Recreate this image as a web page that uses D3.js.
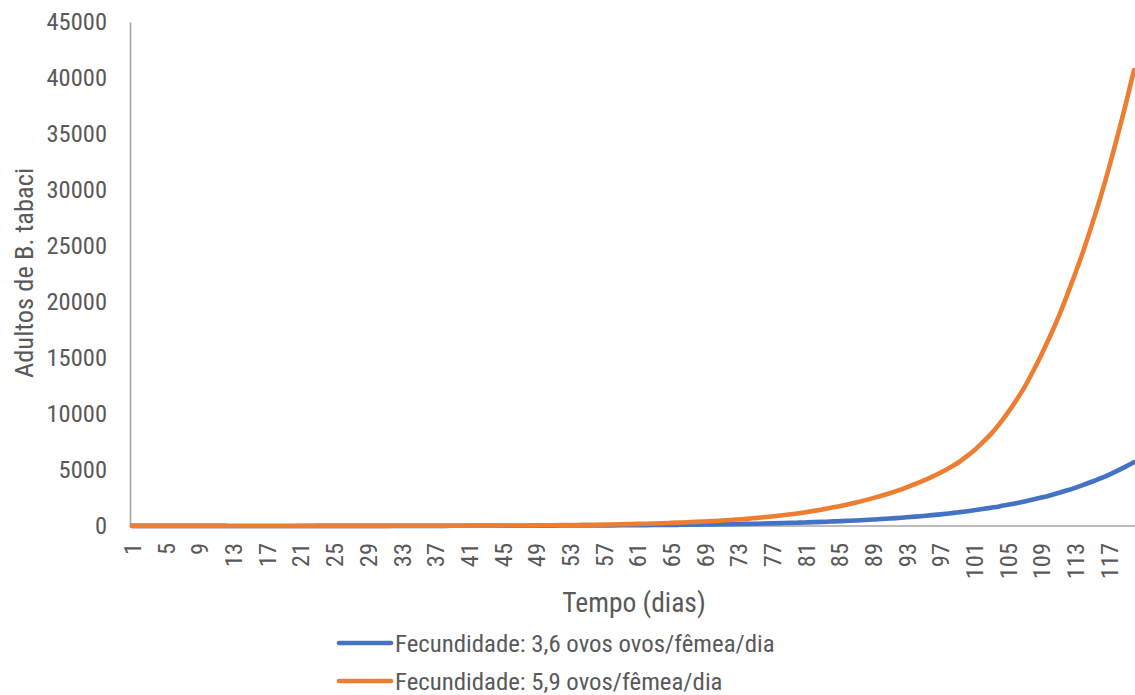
<!DOCTYPE html>
<html>
<head>
<meta charset="utf-8">
<script src="https://cdn.jsdelivr.net/npm/d3@7"></script>
<style>
  html, body { margin: 0; padding: 0; background: #ffffff; }
  svg { display: block; }
  text { font-family: "Liberation Sans Narrow", "Arial Narrow", "Roboto Condensed", "Liberation Sans", sans-serif; fill: #595959; }
</style>
</head>
<body>
<svg id="chart" width="1135" height="695"></svg>
<script>
// Dias da simulação (eixo de categorias)
const dias = [
  1,2,3,4,5,6,7,8,9,10,11,12,13,14,15,16,17,18,19,20,
  21,22,23,24,25,26,27,28,29,30,31,32,33,34,35,36,37,38,39,40,
  41,42,43,44,45,46,47,48,49,50,51,52,53,54,55,56,57,58,59,60,
  61,62,63,64,65,66,67,68,69,70,71,72,73,74,75,76,77,78,79,80,
  81,82,83,84,85,86,87,88,89,90,91,92,93,94,95,96,97,98,99,100,
  101,102,103,104,105,106,107,108,109,110,111,112,113,114,115,116,117,118,119,120
];

// Adultos de B. tabaci — fecundidade 3,6 ovos/fêmea/dia
const adultos36 = [
  10,10,9,9,9,8,8,8,7,7,
  7,7,6,6,6,6,6,6,6,6,
  6,6,7,7,7,8,8,9,9,10,
  10,11,11,12,12,13,14,15,16,17,
  18,19,20,21,22,24,26,28,31,34,
  37,39,42,44,46,50,54,58,62,67,
  72,78,84,90,97,105,113,122,131,141,
  152,164,176,190,204,220,237,255,275,296,
  319,343,370,398,429,462,497,535,575,620,
  670,720,775,835,900,970,1040,1120,1210,1300,
  1400,1510,1630,1750,1890,2030,2190,2360,2540,2730,
  2940,3170,3410,3670,3950,4250,4570,4920,5300,5700
];

// Adultos de B. tabaci — fecundidade 5,9 ovos/fêmea/dia
const adultos59 = [
  10,10,9,9,9,8,8,8,7,7,
  7,7,6,6,6,6,6,6,6,6,
  7,7,8,8,9,10,11,12,13,14,
  15,16,17,18,19,20,22,24,26,28,
  30,32,34,36,38,40,42,50,57,63,
  70,77,85,94,104,115,127,140,155,170,
  187,206,227,250,275,300,330,365,400,440,
  485,530,585,640,705,775,850,930,1020,1120,
  1230,1350,1480,1620,1770,1930,2100,2290,2490,2700,
  2930,3180,3450,3750,4050,4380,4750,5150,5600,6150,
  6750,7450,8200,9100,10100,11200,12400,13800,15300,16900,
  18600,20500,22500,24600,26900,29300,31900,34700,37600,40700
];

const rotulosX = [1,5,9,13,17,21,25,29,33,37,41,45,49,53,57,61,65,69,73,77,81,85,89,93,97,101,105,109,113,117];
const rotulosY = [0,5000,10000,15000,20000,25000,30000,35000,40000,45000];

const nomes = ["Fecundidade: 3,6 ovos ovos/fêmea/dia", "Fecundidade: 5,9 ovos/fêmea/dia"];
const cores = ["#4472C4", "#ED7D31"];

const svg = d3.select("#chart");

const x = d3.scalePoint().domain(dias).range([132, 1134]);
const y = d3.scaleLinear().domain([0, 45000]).range([526, 22]);

const eixoCor = "#a6a6a6";

// Eixo Y
const gy = svg.append("g")
  .attr("transform", "translate(130,0)")
  .call(d3.axisLeft(y).tickValues(rotulosY).tickSize(0).tickSizeOuter(0).tickPadding(23).tickFormat(d3.format("d")));
gy.select(".domain").attr("stroke", eixoCor).attr("stroke-width", 1.6);
gy.selectAll("text").style("font-size", "24.5px").attr("fill", "#595959");

// Eixo X
const gx = svg.append("g")
  .attr("transform", "translate(0,526)")
  .call(d3.axisBottom(x).tickValues(rotulosX).tickSize(0).tickSizeOuter(0));
gx.select(".domain").attr("stroke", eixoCor).attr("stroke-width", 1.6)
  .attr("d", "M130,0H1135");
gx.selectAll("text")
  .attr("transform", "rotate(-90)")
  .attr("x", -17)
  .attr("y", 0)
  .attr("dy", "0.35em")
  .style("text-anchor", "end")
  .style("font-size", "24.5px")
  .attr("fill", "#595959");

// Séries
const linha = d3.line()
  .x((d, i) => x(dias[i]))
  .y(d => y(d))
  .curve(d3.curveMonotoneX);

[adultos36, adultos59].forEach((serie, k) => {
  svg.append("path")
    .datum(serie)
    .attr("fill", "none")
    .attr("stroke", cores[k])
    .attr("stroke-width", 4.6)
    .attr("stroke-linejoin", "round")
    .attr("stroke-linecap", "round")
    .attr("d", linha);
});

// Títulos dos eixos
svg.append("text")
  .attr("x", 634).attr("y", 612)
  .attr("text-anchor", "middle")
  .style("font-size", "27.5px")
  .text("Tempo (dias)");

svg.append("text")
  .attr("transform", "translate(33,273) rotate(-90)")
  .attr("text-anchor", "middle")
  .style("font-size", "26.5px")
  .text("Adultos de B. tabaci");

// Legenda
const leg = svg.append("g");
nomes.forEach((nome, k) => {
  const ly = 643 + k * 38;
  leg.append("line")
    .attr("x1", 339).attr("x2", 391)
    .attr("y1", ly).attr("y2", ly)
    .attr("stroke", cores[k])
    .attr("stroke-width", 4.6)
    .attr("stroke-linecap", "round");
  leg.append("text")
    .attr("x", 395).attr("y", ly)
    .attr("dy", "0.35em")
    .style("font-size", "24.8px")
    .text(nome);
});
</script>
</body>
</html>
